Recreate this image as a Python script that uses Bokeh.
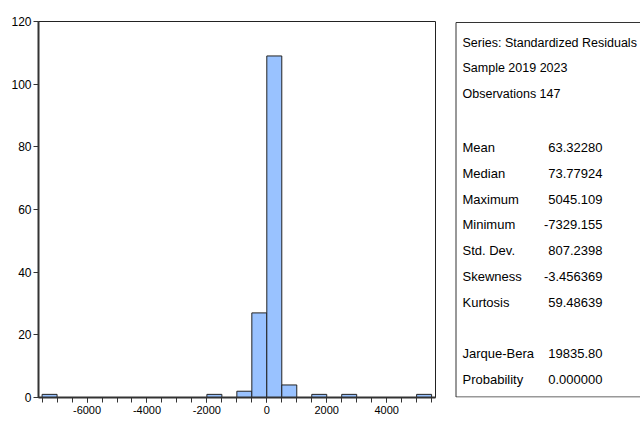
from bokeh.plotting import figure
from bokeh.layouts import row
from bokeh.models import Range1d, FixedTicker, ColumnDataSource
from bokeh.core.properties import value
from bokeh.embed import file_html
from bokeh.resources import INLINE

# ---- data ----
bin_left = [-7500, -7000, -6500, -6000, -5500, -5000, -4500, -4000, -3500, -3000,
            -2500, -2000, -1500, -1000, -500, 0, 500, 1000, 1500, 2000, 2500,
            3000, 3500, 4000, 4500, 5000]
bin_width = 500
counts = [1, 0, 0, 0, 0, 0, 0, 0, 0, 0,
          0, 1, 0, 2, 27, 109, 4, 0, 1, 0, 1,
          0, 0, 0, 0, 1]
x_ticks = [-6000, -4000, -2000, 0, 2000, 4000]
y_ticks = [0, 20, 40, 60, 80, 100, 120]

stat_header = ["Series: Standardized Residuals", "Sample 2019 2023", "Observations 147"]
stat_names = ["Mean", "Median", "Maximum", "Minimum", "Std. Dev.", "Skewness", "Kurtosis",
              "Jarque-Bera", "Probability"]
stat_values = ["63.32280", "73.77924", "5045.109", "-7329.155", "807.2398", "-3.456369",
               "59.48639", "19835.80", "0.000000"]

FONT = "Liberation Sans"

# ---- histogram ----
lefts = [l for l, c in zip(bin_left, counts) if c > 0]
tops = [c for c in counts if c > 0]
rights = [l + bin_width for l in lefts]
src = ColumnDataSource(dict(left=lefts, right=rights, top=tops, bottom=[0] * len(tops)))

p = figure(width=448, height=420, output_backend="svg", toolbar_location=None,
           x_range=Range1d(-7620, 5630), y_range=Range1d(0, 120),
           min_border_left=38, min_border_right=13, min_border_top=21, min_border_bottom=23)
p.quad(left="left", right="right", top="top", bottom="bottom", source=src,
       fill_color="#99c2ff", line_color="#222222", line_width=1)

p.grid.visible = False
p.outline_line_color = "#222222"
p.outline_line_width = 1
p.background_fill_color = "white"
p.border_fill_color = "white"

minor = [bin_left[0] + i * bin_width for i in range(len(bin_left) + 1)]
p.xaxis.ticker = FixedTicker(ticks=x_ticks, minor_ticks=minor)
p.yaxis.ticker = FixedTicker(ticks=y_ticks, minor_ticks=[])
p.xaxis.major_label_overrides = {t: str(t) for t in x_ticks}
for ax in (p.xaxis[0], p.yaxis[0]):
    ax.axis_line_width = 2
    ax.axis_line_color = "#333333"
    ax.major_tick_line_color = "#333333"
    ax.minor_tick_line_color = "#333333"
    ax.major_tick_in = 0
    ax.major_tick_out = 5
    ax.minor_tick_in = 0
    ax.minor_tick_out = 5
    ax.major_label_text_font = FONT
    ax.major_label_text_color = "black"
p.xaxis.major_label_text_font_size = "11px"
p.yaxis.major_label_text_font_size = "12px"
p.xaxis.major_label_standoff = 3
p.yaxis.major_label_standoff = 2

# ---- statistics box (frame is aligned with the histogram frame: pixels 21..397) ----
q = figure(width=192, height=420, output_backend="svg", toolbar_location=None,
           x_range=Range1d(0, 192), y_range=Range1d(397, 21),
           min_border_left=0, min_border_right=0, min_border_top=21, min_border_bottom=23)
q.axis.visible = False
q.grid.visible = False
q.outline_line_color = None
q.border_fill_color = "white"
q.background_fill_color = "white"

q.line(x=[210, 7.5, 7.5, 210], y=[22, 22, 396.5, 396.5], line_color="#333333", line_width=1)

step = 25.75
y0 = 42
hy = [y0 + i * step for i in range(len(stat_header))]
q.text(x=[14] * len(stat_header), y=hy, text=stat_header,
       text_font=value(FONT), text_font_size="12.5px", text_color="black",
       text_align="left", text_baseline="middle")

rows_idx = [4, 5, 6, 7, 8, 9, 10, 12, 13]
sy = [y0 + i * step + 2 for i in rows_idx]
q.text(x=[14] * len(stat_names), y=sy, text=stat_names,
       text_font=value(FONT), text_font_size="13px", text_color="black",
       text_align="left", text_baseline="middle")
q.text(x=[154] * len(stat_values), y=sy, text=stat_values,
       text_font=value(FONT), text_font_size="13px", text_color="black",
       text_align="right", text_baseline="middle")

layout = row(p, q, spacing=0)
open("out.html", "w").write(file_html(layout, INLINE))
